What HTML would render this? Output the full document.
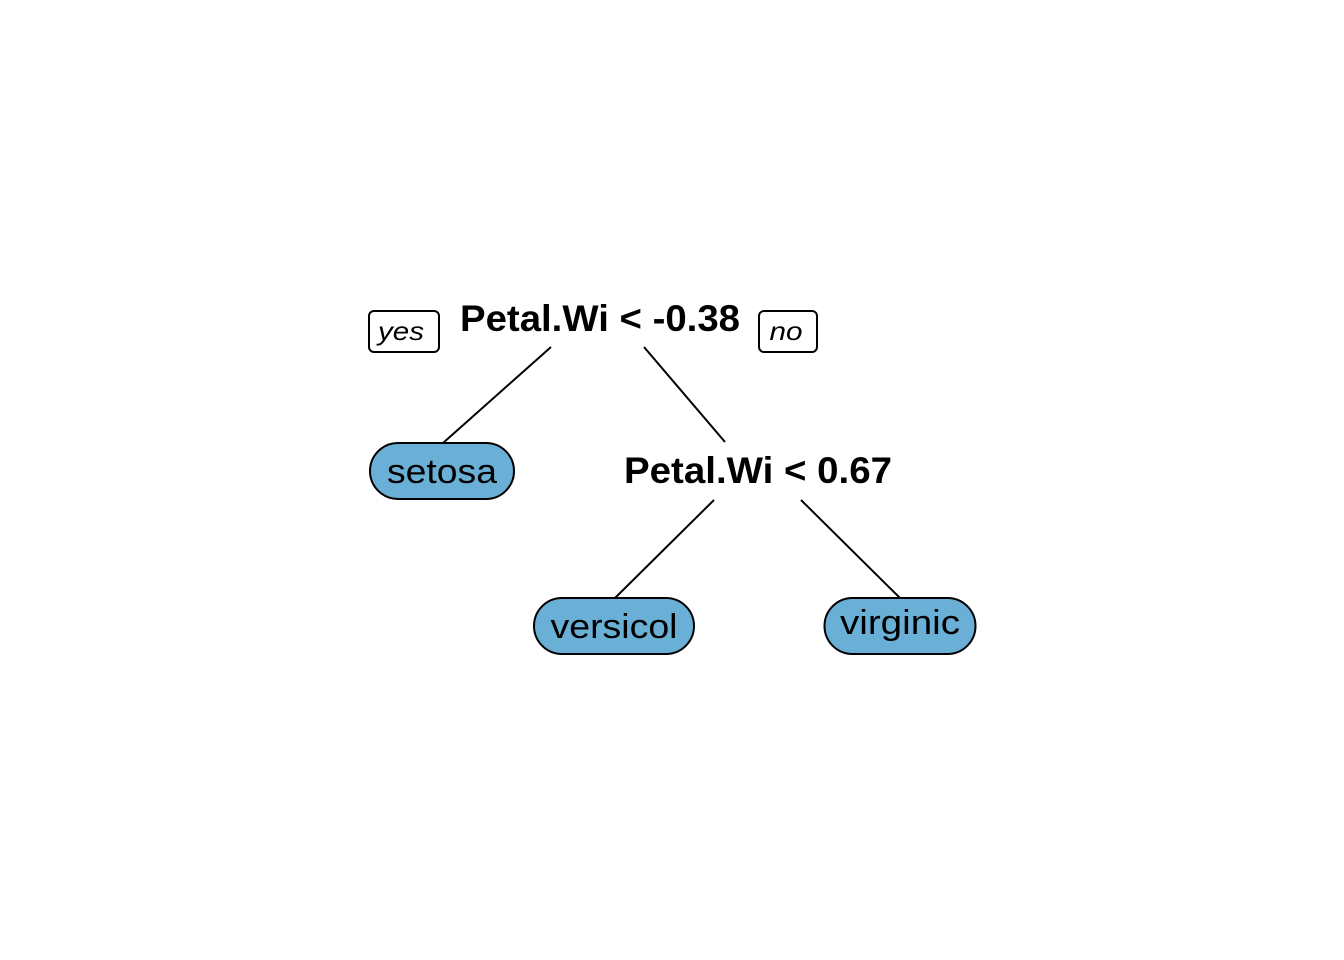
<!DOCTYPE html>
<html><head><meta charset="utf-8"><style>
html,body{margin:0;padding:0;background:#fff;}
svg{display:block;font-family:"Liberation Sans",Arial,sans-serif;}
</style></head><body>
<svg id="c" width="1344" height="960" xmlns="http://www.w3.org/2000/svg">
<g id="edges" stroke="#000" stroke-width="2"></g>
<g id="nodes"></g>
</svg>
<script>
const splitLabels = ["Petal.Wi < -0.38", "Petal.Wi < 0.67"];
const splitX = [600, 758];
const splitY = [331, 483];
const splitTextW = [280, 268];
const leafLabels = ["setosa", "versicol", "virginic"];
const leafX = [442, 614, 900];
const leafY = [471, 626, 626];
const leafW = [144, 160, 151];
const leafTextW = [110, 127, 120];
const edgesFrom = [[551,347],[644,347],[714,500],[801,500]];
const edgesTo = [[443,443],[725,442],[615,598],[900,598]];
const NS = "http://www.w3.org/2000/svg";
const eg = document.getElementById('edges'), ng = document.getElementById('nodes');
function mk(t, a, p){const e=document.createElementNS(NS,t);for(const k in a)e.setAttribute(k,a[k]);p.appendChild(e);return e;}
edgesFrom.forEach((f,i)=>{
  const l=mk('line',{x1:f[0],y1:f[1],x2:edgesTo[i][0],y2:edgesTo[i][1]},eg);
  
  
});
splitLabels.forEach((s,i)=>{
  const t=mk('text',{x:splitX[i],y:splitY[i],'text-anchor':'middle','font-size':37,'font-weight':'bold',textLength:splitTextW[i],lengthAdjust:'spacingAndGlyphs'},ng);
  t.textContent=s;
  
  
});
leafLabels.forEach((s,i)=>{
  const h=56;
  const r=mk('rect',{x:leafX[i]-leafW[i]/2,y:leafY[i]-h/2,width:leafW[i],height:h,rx:28,ry:28,fill:'#6aafd6',stroke:'#000','stroke-width':2},ng);
  
  
  const t=mk('text',{x:leafX[i],y:leafY[i]+(s==='virginic'?8:12),'text-anchor':'middle','font-size':34,textLength:leafTextW[i],lengthAdjust:'spacingAndGlyphs'},ng);
  t.textContent=s;
  
  
});
const yb=mk('rect',{x:369,y:311,width:70,height:41,rx:5,fill:'#fff',stroke:'#000','stroke-width':2},ng);


const yt=mk('text',{x:401,y:340,'text-anchor':'middle','font-size':26,'font-style':'italic',textLength:46,lengthAdjust:'spacingAndGlyphs'},ng);
yt.textContent='yes';


const nb=mk('rect',{x:759,y:311,width:58,height:41,rx:5,fill:'#fff',stroke:'#000','stroke-width':2},ng);


const nt=mk('text',{x:786,y:340,'text-anchor':'middle','font-size':26,'font-style':'italic',textLength:33,lengthAdjust:'spacingAndGlyphs'},ng);
nt.textContent='no';


</script>
</body></html>
